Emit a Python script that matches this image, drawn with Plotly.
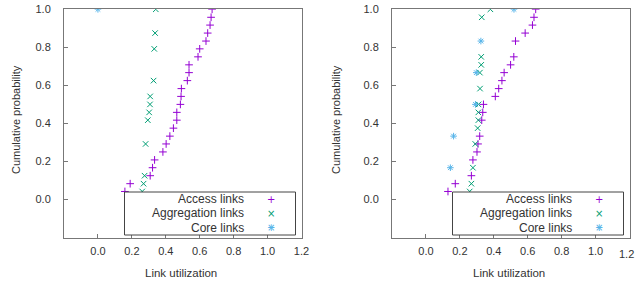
import plotly.graph_objects as go

# ---------------- data ----------------
left_access_x = [0.159, 0.190, 0.308, 0.322, 0.334, 0.383, 0.402, 0.424, 0.445, 0.465, 0.465, 0.486,
                 0.490, 0.492, 0.527, 0.537, 0.537, 0.590, 0.600, 0.637, 0.647, 0.661, 0.667, 0.673]
left_access_y = [0.042, 0.083, 0.125, 0.167, 0.208, 0.250, 0.292, 0.333, 0.375, 0.417, 0.458, 0.500,
                 0.542, 0.583, 0.625, 0.667, 0.708, 0.750, 0.792, 0.833, 0.875, 0.917, 0.958, 1.000]
left_agg_x = [0.261, 0.269, 0.275, 0.281, 0.294, 0.302, 0.307, 0.308, 0.328, 0.332, 0.337, 0.341]
left_agg_y = [0.042, 0.083, 0.125, 0.292, 0.417, 0.458, 0.500, 0.542, 0.625, 0.792, 0.875, 1.000]
left_core_x = [0.0]
left_core_y = [1.0]

right_access_x = [0.130, 0.173, 0.268, 0.277, 0.301, 0.307, 0.317, 0.329, 0.335, 0.339, 0.409,
                  0.429, 0.448, 0.461, 0.499, 0.518, 0.528, 0.585, 0.628, 0.637, 0.647]
right_access_y = [0.042, 0.083, 0.125, 0.208, 0.250, 0.292, 0.333, 0.417, 0.458, 0.500, 0.542,
                  0.583, 0.625, 0.667, 0.708, 0.750, 0.833, 0.875, 0.917, 0.958, 1.000]
right_agg_x = [0.258, 0.268, 0.277, 0.291, 0.305, 0.309, 0.309, 0.310, 0.319, 0.318, 0.326, 0.326, 0.329, 0.380]
right_agg_y = [0.042, 0.083, 0.167, 0.292, 0.375, 0.417, 0.458, 0.500, 0.583, 0.667, 0.708, 0.750, 0.958, 1.000]
right_core_x = [0.144, 0.163, 0.292, 0.297, 0.324, 0.519]
right_core_y = [0.167, 0.333, 0.500, 0.667, 0.833, 1.000]

series_names = ["Access links", "Aggregation links", "Core links"]
x_ticks = [0.0, 0.2, 0.4, 0.6, 0.8, 1.0, 1.2]
x_tick_labels = ["0.0", "0.2", "0.4", "0.6", "0.8", "1.0", "1.2"]
y_ticks = [0.0, 0.2, 0.4, 0.6, 0.8, 1.0]
y_tick_labels = ["0.0", "0.2", "0.4", "0.6", "0.8", "1.0"]
x_title = "Link utilization"
y_title = "Cumulative probability"

# ---------------- style ----------------
W, H = 637, 284
PURPLE, GREEN, BLUE = "#9400d3", "#009e73", "#56b4e9"
FRAME = "#777777"
FONT = "Liberation Sans, Arial, sans-serif"
TXT = "#333333"
symbols = ["cross-thin", "x-thin", "asterisk"]
colors = [PURPLE, GREEN, BLUE]

def px(x):
    return x / W

def py(y):
    return 1 - y / H

fig = go.Figure()

panels = [
    ([left_access_x, left_agg_x, left_core_x], [left_access_y, left_agg_y, left_core_y], "x", "y"),
    ([right_access_x, right_agg_x, right_core_x], [right_access_y, right_agg_y, right_core_y], "x2", "y2"),
]
for xs_list, ys_list, xa, ya in panels:
    for xs, ys, name, sym, col in zip(xs_list, ys_list, series_names, symbols, colors):
        fig.add_trace(go.Scatter(
            x=xs, y=ys, mode="markers", name=name, showlegend=False,
            xaxis=xa, yaxis=ya, hoverinfo="skip",
            marker=dict(symbol=sym, size=5.5, color=col, line=dict(width=1, color=col)),
        ))

left_px = [64, 392]
plot_w = 237.5
top_px, bot_px = 9.3, 237.5

axis_common = dict(
    showgrid=False, zeroline=False, showline=True, mirror=True, automargin=False,
    linecolor=FRAME, linewidth=1, ticks="inside", ticklen=4, tickwidth=1,
    tickcolor=FRAME, tickfont=dict(family=FONT, size=11, color=TXT),
)

layout_axes = {}
for i, lp in enumerate(left_px):
    sx = "" if i == 0 else "2"
    # the right panel's last label sits at the page edge; it is drawn
    # separately, nudged inward as in the reference
    tt = x_tick_labels if i == 0 else x_tick_labels[:-1] + [""]
    layout_axes["xaxis" + sx] = dict(
        axis_common, domain=[px(lp), px(lp + plot_w)], range=[-0.2, 1.2],
        tickvals=x_ticks, ticktext=tt, anchor="y" + sx,
        ticklabelstandoff=3,
    )
    layout_axes["yaxis" + sx] = dict(
        axis_common, domain=[py(bot_px), py(top_px)], range=[-0.2, 1.0],
        tickvals=y_ticks, ticktext=y_tick_labels, anchor="x" + sx,
        ticklabelstandoff=10,
    )

fig.update_layout(
    width=W, height=H,
    margin=dict(l=0, r=0, t=0, b=0, autoexpand=False),
    paper_bgcolor="white", plot_bgcolor="white",
    font=dict(family=FONT, color=TXT),
    **layout_axes,
)

annotations = []
shapes = []
for i, lp in enumerate(left_px):
    off = lp - 64
    # axis titles
    annotations.append(dict(
        text=x_title, x=px(180.5 + off), y=py(273), xref="paper", yref="paper",
        showarrow=False, xanchor="center", yanchor="middle",
        font=dict(family=FONT, size=11.5, color=TXT),
    ))
    annotations.append(dict(
        text=y_title, x=px(16 + off - (8 if i else 0)), y=py(120), xref="paper", yref="paper",
        showarrow=False, xanchor="center", yanchor="middle", textangle=-90,
        font=dict(family=FONT, size=11, color=TXT),
    ))
    # legend box
    shapes.append(dict(
        type="rect", xref="paper", yref="paper",
        x0=px(124.5 + off), x1=px(295.5 + off), y0=py(235), y1=py(192),
        line=dict(color="#444444", width=1), fillcolor="white", layer="above",
    ))
    rows = [199, 213.3, 227.7]
    for name, col, ry, k in zip(series_names, colors, rows, range(3)):
        annotations.append(dict(
            text=name, x=px(245.5 + off), y=py(ry), xref="paper", yref="paper",
            showarrow=False, xanchor="right", yanchor="middle",
            font=dict(family=FONT, size=12, color=TXT),
        ))
        glyphs = ["+"] if k == 0 else (["×"] if k == 1 else ["+", "×"])
        for g in glyphs:
            annotations.append(dict(
                text=g, x=px(270.7 + off), y=py(ry), xref="paper", yref="paper",
                showarrow=False, xanchor="center", yanchor="middle",
                font=dict(family="DejaVu Sans, sans-serif", size=10, color=col),
            ))

# right panel's edge tick label
annotations.append(dict(
    text=x_tick_labels[-1], x=px(636), y=py(253.5), xref="paper", yref="paper",
    showarrow=False, xanchor="right", yanchor="middle",
    font=dict(family=FONT, size=11, color=TXT),
))

fig.update_layout(annotations=annotations, shapes=shapes)

fig.write_html(
    "out.html",
    config={"displayModeBar": False},
    post_script="document.body.style.margin='0';document.body.style.overflow='hidden';",
)
